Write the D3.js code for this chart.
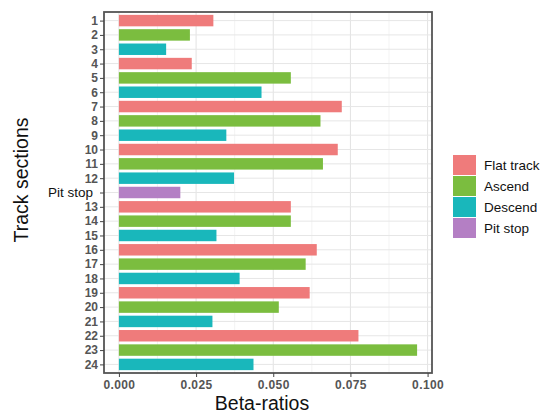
<!DOCTYPE html>
<html>
<head>
<meta charset="utf-8">
<script src="https://cdn.jsdelivr.net/npm/d3@7"></script>
<style>
  body { margin: 0; background: #fff; font-family: "Liberation Sans", Arial, sans-serif; }
</style>
</head>
<body>
<script>

const sections = ["1","2","3","4","5","6","7","8","9","10","11","12","Pit stop","13","14","15","16","17","18","19","20","21","22","23","24"]
const types = ["Flat track","Ascend","Descend","Flat track","Ascend","Descend","Flat track","Ascend","Descend","Flat track","Ascend","Descend","Pit stop","Flat track","Ascend","Descend","Flat track","Ascend","Descend","Flat track","Ascend","Descend","Flat track","Ascend","Descend"]
const betas = [0.0306,0.0230,0.0153,0.0236,0.0557,0.0462,0.0722,0.0653,0.0348,0.0709,0.0661,0.0373,0.0199,0.0557,0.0557,0.0316,0.0641,0.0605,0.0391,0.0618,0.0518,0.0303,0.0776,0.0966,0.0436]
const legendLabels = ["Flat track","Ascend","Descend","Pit stop"]
const xTicks = [0, 0.025, 0.05, 0.075, 0.1]

const dataset = sections.map((s, i) => ({ section: s, type: types[i], beta: betas[i] }))

const w = 543
const h = 415
const panel = { left: 104, right: 432, top: 12, bottom: 373 }

const svg = d3.select("body")
  .append("svg")
  .attr("width", w)
  .attr("height", h)

const maxBeta = d3.max(betas)
const xScale = d3.scaleLinear()
  .domain([-maxBeta * 0.05, maxBeta * 1.05])
  .range([panel.left, panel.right])

const yScale = d3.scalePoint()
  .domain(sections)
  .range([panel.top, panel.bottom])
  .padding(0.6)

const color = d3.scaleOrdinal()
  .domain(legendLabels)
  .range(["#ef7b7b", "#7bbd3f", "#19b7bb", "#b47fc4"])

// grid
const minor = xTicks.slice(0, -1).map(t => t + 0.0125)
svg.append("g")
  .selectAll("line")
  .data(minor)
  .enter()
  .append("line")
  .attr("x1", d => xScale(d))
  .attr("x2", d => xScale(d))
  .attr("y1", panel.top)
  .attr("y2", panel.bottom)
  .attr("stroke", "#f0f0f0")
  .attr("stroke-width", 0.8)

svg.append("g")
  .selectAll("line")
  .data(xTicks)
  .enter()
  .append("line")
  .attr("x1", d => xScale(d))
  .attr("x2", d => xScale(d))
  .attr("y1", panel.top)
  .attr("y2", panel.bottom)
  .attr("stroke", "#e2e2e2")
  .attr("stroke-width", 1)

svg.append("g")
  .selectAll("line")
  .data(sections)
  .enter()
  .append("line")
  .attr("x1", panel.left)
  .attr("x2", panel.right)
  .attr("y1", d => yScale(d))
  .attr("y2", d => yScale(d))
  .attr("stroke", "#e6e6e6")
  .attr("stroke-width", 1)

const barH = yScale.step() * 0.8

svg.selectAll("rect.bar")
  .data(dataset)
  .enter()
  .append("rect")
  .attr("class", "bar")
  .attr("x", xScale(0))
  .attr("y", d => yScale(d.section) - barH / 2)
  .attr("width", d => xScale(d.beta) - xScale(0))
  .attr("height", barH)
  .style("fill", d => color(d.type))

// border
svg.append("rect")
  .attr("x", panel.left)
  .attr("y", panel.top)
  .attr("width", panel.right - panel.left)
  .attr("height", panel.bottom - panel.top)
  .attr("fill", "none")
  .attr("stroke", "#555")
  .attr("stroke-width", 1.8)

const xAxis = d3.axisBottom(xScale)
  .tickValues(xTicks)
  .tickFormat(d3.format(".3f"))
  .tickSize(4)
  .tickPadding(3)

const yAxis = d3.axisLeft(yScale)
  .tickSize(4)
  .tickPadding(2)

const gx = svg.append("g")
  .attr("transform", `translate(0, ${panel.bottom})`)
  .call(xAxis)
  .attr("id", "x-axis")
gx.select(".domain").remove()
gx.selectAll("line").attr("stroke", "#444")
gx.selectAll("text")
  .attr("fill", "#555")
  .style("font-size", "12px")
  .style("font-weight", "bold")
  .style("letter-spacing", "0.4px")

const gy = svg.append("g")
  .attr("transform", `translate(${panel.left}, 0)`)
  .call(yAxis)
  .attr("id", "y-axis")
gy.select(".domain").remove()
gy.selectAll("line").attr("stroke", "#444")
gy.selectAll("text")
  .attr("fill", "#555")
  .style("font-size", "12px")
  .style("font-weight", "bold")
  .style("font-family", "'Liberation Sans', Arial, sans-serif")
gy.selectAll(".tick")
  .filter(d => d === "Pit stop")
  .select("text")
  .attr("fill", "#111")
  .attr("x", -11)
  .style("font-weight", "normal")
  .style("font-size", "13.5px")

svg.append("text")
  .attr("x", 262)
  .attr("y", 410)
  .attr("text-anchor", "middle")
  .style("font-size", "19.5px")
  .attr("fill", "#111")
  .text("Beta-ratios")

svg.append("text")
  .attr("transform", "translate(28, 180) rotate(-90)")
  .attr("text-anchor", "middle")
  .style("font-size", "19.5px")
  .attr("fill", "#111")
  .text("Track sections")

// legend
const legend = svg.append("g")
  .attr("id", "legend")
  .attr("transform", "translate(453, 155)")

legend.selectAll("rect")
  .data(legendLabels)
  .enter()
  .append("rect")
  .attr("x", 0)
  .attr("y", (d, i) => i * 21)
  .attr("width", 23)
  .attr("height", 20)
  .style("fill", d => color(d))

legend.selectAll("text")
  .data(legendLabels)
  .enter()
  .append("text")
  .attr("x", 31)
  .attr("y", (d, i) => i * 21 + 10)
  .attr("dy", "0.35em")
  .style("font-size", "13.5px")
  .attr("fill", "#111")
  .text(d => d)

</script>
</body>
</html>
